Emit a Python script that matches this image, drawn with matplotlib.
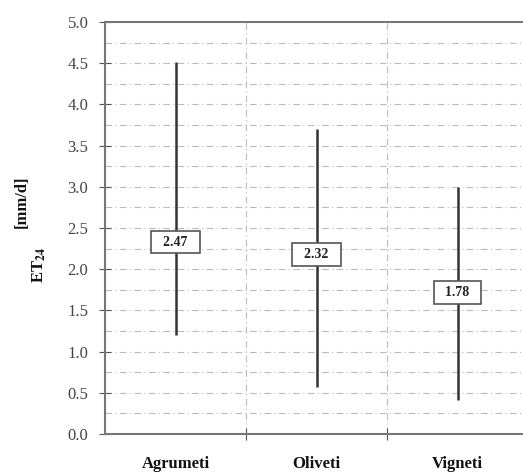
import matplotlib
matplotlib.use("Agg")
import matplotlib.pyplot as plt
import numpy as np

categories = ["Agrumeti", "Oliveti", "Vigneti"]
mins = [1.20, 0.57, 0.41]
maxs = [4.51, 3.70, 3.00]
means = [2.47, 2.32, 1.78]
mean_labels = ["2.47", "2.32", "1.78"]
label_pos = [2.33, 2.18, 1.72]
yticks = [0.0, 0.5, 1.0, 1.5, 2.0, 2.5, 3.0, 3.5, 4.0, 4.5, 5.0]

plt.rcParams['font.family'] = ['Liberation Serif', 'DejaVu Serif']
plt.rcParams['mathtext.fontset'] = 'stix'

fig = plt.figure(figsize=(5.23, 4.73), dpi=100)
ax = fig.add_axes([105/523, 39/473, 1 - 105/523, (434-22)/473])

x = np.arange(len(categories))
ax.set_xlim(-0.5, -0.5 + (523-105)/141)
ax.set_ylim(0, 5.0)

# grid
for yv in np.arange(0.25, 5.0, 0.25):
    ax.axhline(yv, color='#bbbbbb', lw=0.8, ls=(0, (6, 3, 1, 3)), zorder=0)
for xv in [0.5, 1.5]:
    ax.axvline(xv, color='#bbbbbb', lw=0.8, ls=(0, (6, 3, 1, 3)), zorder=0)

ax.vlines(x, mins, maxs, color='#333333', lw=1.8, zorder=2)
for xi, lp, lab in zip(x, label_pos, mean_labels):
    ax.text(xi, lp, "  " + lab + "  ", ha='center', va='center', fontsize=10, fontweight='bold',
            color='#222222', zorder=3,
            bbox=dict(boxstyle='square,pad=0.35', fc='white', ec='#555555', lw=1.2))

ax.set_yticks(yticks)
ax.set_yticklabels([f"{v:.1f}" for v in yticks], fontsize=12, color='#444444')
ax.set_xticks([0.5, 1.5])
ax.set_xticklabels([])
ax.set_xticks(x, minor=True)
ax.set_xticklabels(categories, minor=True, fontsize=12, fontweight='bold', color='#111111')
ax.tick_params(axis='x', which='minor', length=0, pad=16)
ax.tick_params(axis='x', which='major', direction='inout', length=8, color='#555555')
ax.tick_params(axis='y', direction='inout', length=8, color='#555555', pad=8)

for s in ['left', 'bottom', 'top']:
    ax.spines[s].set_color('#777777')
    ax.spines[s].set_linewidth(1.5)
ax.spines['right'].set_visible(False)

fig.text(39/523, 1 - 265/473, r'ET$_{\mathbf{24}}$', rotation=90, ha='center', va='center',
         fontsize=12, fontweight='bold', color='#111111')
fig.text(22/523, 1 - 202/473, '[mm/d]', rotation=90, ha='center', va='center',
         fontsize=12, fontweight='bold', color='#111111')

fig.savefig("out.png", dpi=100)
